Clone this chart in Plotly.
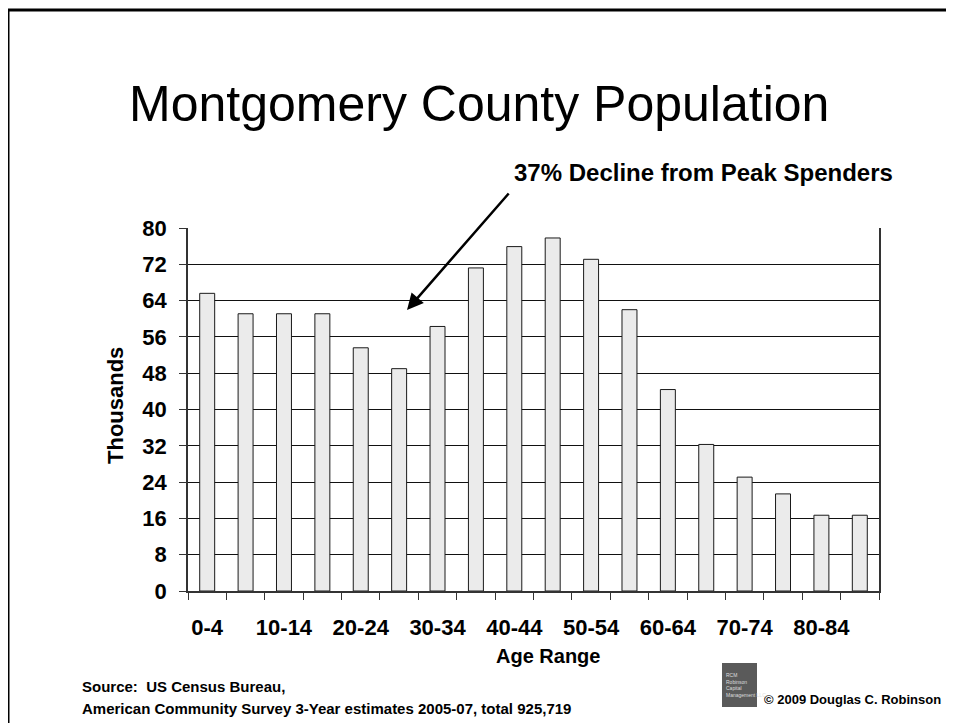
import plotly.graph_objects as go

# ---- data ----
age_groups = ["0-4", "5-9", "10-14", "15-19", "20-24", "25-29", "30-34", "35-39",
              "40-44", "45-49", "50-54", "55-59", "60-64", "65-69", "70-74", "75-79",
              "80-84", "85+"]
population_thousands = [65.6, 61.1, 61.1, 61.1, 53.6, 49.0, 58.3, 71.2, 75.9, 77.8,
                        73.1, 62.0, 44.4, 32.3, 25.1, 21.4, 16.7, 16.7]
tick_labels = [g if i % 2 == 0 else "" for i, g in enumerate(age_groups)]
y_ticks = list(range(0, 81, 8))

title_text = "Montgomery County Population"
callout_text = "37% Decline from Peak Spenders"
source_line1 = "Source:\u00a0 US Census Bureau,"
source_line2 = "American Community Survey 3-Year estimates 2005-07, total 925,719"
copyright_text = "© 2009 Douglas C. Robinson"

# ---- layout geometry ----
# The page body adds an 8px margin, so the figure is drawn 8px smaller and
# all positions below (given in screen pixels) are shifted by OFF.
OFF = 8
W, H = 954 - OFF, 723 - OFF
L, R, T, B = 188 - OFF, 879 - OFF, 228 - OFF, 591 - OFF
PW, PH = R - L, B - T


def px(x):
    return (x - OFF - L) / PW


def py(y):
    return (B - (y - OFF)) / PH


FONT = "Liberation Sans, Arial, sans-serif"

fig = go.Figure()
fig.add_trace(go.Bar(
    x=age_groups, y=population_thousands,
    marker=dict(color="#EBEBEB", line=dict(color="#1a1a1a", width=1)),
    hoverinfo="x+y",
))

fig.update_layout(
    width=W, height=H,
    margin=dict(l=L, r=W - R, t=T, b=H - B),
    paper_bgcolor="white", plot_bgcolor="white",
    bargap=0.61, showlegend=False,
    font=dict(family=FONT, color="black"),
)

fig.update_xaxes(
    type="category", tickmode="array", tickvals=age_groups, ticktext=tick_labels,
    tickson="boundaries", ticks="outside", ticklen=7, tickcolor="#333", tickwidth=1,
    showgrid=False, showline=True, linecolor="#333", linewidth=1.5, mirror=False,
    tickfont=dict(size=22, family=FONT, weight="bold", color="black"),
    ticklabelstandoff=16, tickangle=0,
)
fig.update_yaxes(
    range=[0, 80], tickmode="array", tickvals=y_ticks,
    ticks="outside", ticklen=7, tickcolor="#333", tickwidth=1,
    showgrid=True, gridcolor="#111", gridwidth=1,
    showline=True, linecolor="#333", linewidth=1.5, mirror=True,
    tickfont=dict(size=22, family=FONT, weight="bold", color="black"),
    ticklabelstandoff=8, zeroline=False,
)

shapes = [
    # slide frame
    dict(type="rect", xref="paper", yref="paper",
         x0=px(8), x1=px(975), y0=py(10), y1=py(740),
         line=dict(color="black", width=3), fillcolor="rgba(0,0,0,0)", layer="below"),
    # logo square
    dict(type="rect", xref="paper", yref="paper",
         x0=px(722), x1=px(757), y0=py(663), y1=py(707),
         line=dict(width=0), fillcolor="#5a5a5a", layer="above"),
]
fig.update_layout(shapes=shapes)

ann = [
    dict(text=title_text, x=px(479), y=py(104), xanchor="center", yanchor="middle",
         font=dict(size=50, family=FONT, color="black")),
    dict(text="<b>" + callout_text + "</b>", x=px(512), y=py(172), xanchor="left", yanchor="middle",
         font=dict(size=24, family=FONT, color="black")),
    dict(text="<b>Thousands</b>", x=px(115), y=py(406), xanchor="center", yanchor="middle",
         textangle=-90, font=dict(size=22, family=FONT, color="black")),
    dict(text="<b>Age Range</b>", x=px(548), y=py(656), xanchor="center", yanchor="middle",
         font=dict(size=20, family=FONT, color="black")),
    dict(text="<b>" + source_line1 + "</b>", x=px(80), y=py(686), xanchor="left", yanchor="middle",
         font=dict(size=15, family=FONT, color="black")),
    dict(text="<b>" + source_line2 + "</b>", x=px(80), y=py(708), xanchor="left", yanchor="middle",
         font=dict(size=15, family=FONT, color="black")),
    dict(text="<b>" + copyright_text + "</b>", x=px(762), y=py(699), xanchor="left", yanchor="middle",
         font=dict(size=13, family=FONT, color="black")),
    dict(text="RCM<br>Robinson<br>Capital<br>Management LLC", x=px(724), y=py(685),
         xanchor="left", yanchor="middle", align="left",
         font=dict(size=5, family=FONT, color="#dddddd")),
    # arrow
    dict(text="", x=px(407), y=py(310), ax=103, ay=-118,
         axref="pixel", ayref="pixel",
         showarrow=True, arrowhead=2, arrowsize=1.3, arrowwidth=2.5, arrowcolor="black"),
]
for a in ann:
    a.setdefault("xref", "paper")
    a.setdefault("yref", "paper")
    a.setdefault("showarrow", False)
fig.update_layout(annotations=ann)

fig.write_html("out.html")
